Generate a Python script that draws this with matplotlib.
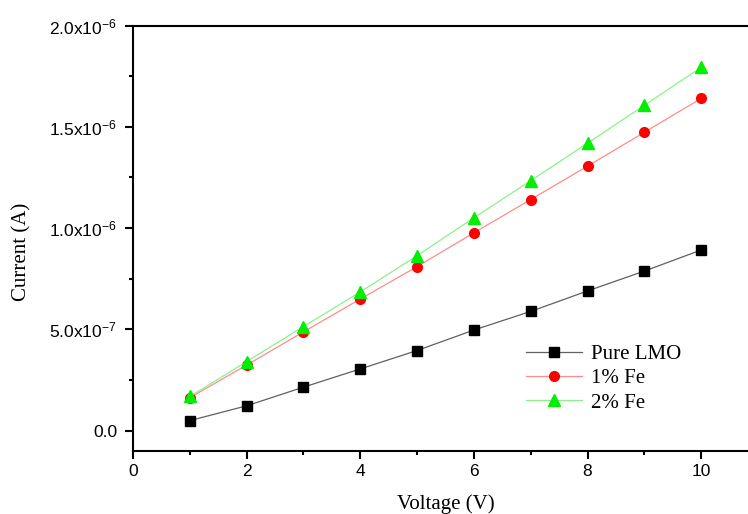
import matplotlib
matplotlib.use("Agg")
import matplotlib.pyplot as plt
from matplotlib.ticker import MultipleLocator, FuncFormatter

plt.rcParams['mathtext.fontset'] = 'custom'
plt.rcParams['mathtext.rm'] = 'Liberation Sans'
plt.rcParams['mathtext.it'] = 'Liberation Sans:italic'
plt.rcParams['mathtext.bf'] = 'Liberation Sans:bold'

# I-V measurements
voltage = [1, 2, 3, 4, 5, 6, 7, 8, 9, 10]
pure_lmo = [0.050e-6, 0.123e-6, 0.215e-6, 0.305e-6, 0.396e-6, 0.497e-6, 0.589e-6, 0.690e-6, 0.788e-6, 0.892e-6]
fe_1 = [0.163e-6, 0.324e-6, 0.488e-6, 0.650e-6, 0.810e-6, 0.977e-6, 1.141e-6, 1.306e-6, 1.473e-6, 1.640e-6]
fe_2 = [0.169e-6, 0.341e-6, 0.514e-6, 0.685e-6, 0.864e-6, 1.051e-6, 1.234e-6, 1.419e-6, 1.606e-6, 1.793e-6]
series_labels = ["Pure LMO", "1% Fe", "2% Fe"]
y_tick_labels = {0: "0.0", 1: r"5.0x10$^{\mathregular{-7}}$", 2: r"1.0x10$^{\mathregular{-6}}$",
                 3: r"1.5x10$^{\mathregular{-6}}$", 4: r"2.0x10$^{\mathregular{-6}}$"}

fig = plt.figure(figsize=(7.48, 5.14), dpi=100)
ax = fig.add_axes([133 / 748, (514 - 451) / 514, 625 / 748, (451 - 25.5) / 514])

ax.plot(voltage, pure_lmo, color="#606060", lw=0.9, marker="s", ms=6.5,
        mfc="black", mec="black", label=series_labels[0])
ax.plot(voltage, fe_1, color="#ff8c8c", lw=0.9, marker="o", ms=7,
        mfc="#ff0000", mec="#ff0000", label=series_labels[1])
ax.plot(voltage, fe_2, color="#8cf08c", lw=0.9, marker="^", ms=8,
        mfc="#00ee00", mec="#00ee00", label=series_labels[2])

ax.set_xlim(0, 11)
ax.set_ylim(-1e-7, 2e-6)

ax.xaxis.set_major_locator(MultipleLocator(2))
ax.xaxis.set_minor_locator(MultipleLocator(1))
ax.yaxis.set_major_locator(MultipleLocator(5e-7))
ax.yaxis.set_minor_locator(MultipleLocator(2.5e-7))
ax.yaxis.set_major_formatter(FuncFormatter(
    lambda v, p: y_tick_labels.get(int(round(v / 5e-7)), "")))

for s in ax.spines.values():
    s.set_linewidth(1.5)
ax.tick_params(which="major", direction="out", length=5.5, width=1.5,
               labelsize=12.5, pad=4)
ax.tick_params(axis="y", which="major", pad=6)
ax.tick_params(which="minor", direction="out", length=3, width=1.5)
for lab in ax.get_xticklabels() + ax.get_yticklabels():
    lab.set_family("Liberation Sans")

ax.set_xlabel("Voltage (V)", family="Liberation Serif", fontsize=15)
ax.set_ylabel("Current (A)", family="Liberation Serif", fontsize=15)
ax.xaxis.set_label_coords(0.5, -0.102)
ax.yaxis.set_label_coords(-0.162, 0.467)

ax.legend(loc="upper left", bbox_to_anchor=(0.629, 0.25), frameon=False,
          prop={"family": "Liberation Serif", "size": 15},
          handlelength=2.7, handletextpad=0.4, borderpad=0, borderaxespad=0,
          labelspacing=0.22)

fig.savefig("out.png", dpi=100)
